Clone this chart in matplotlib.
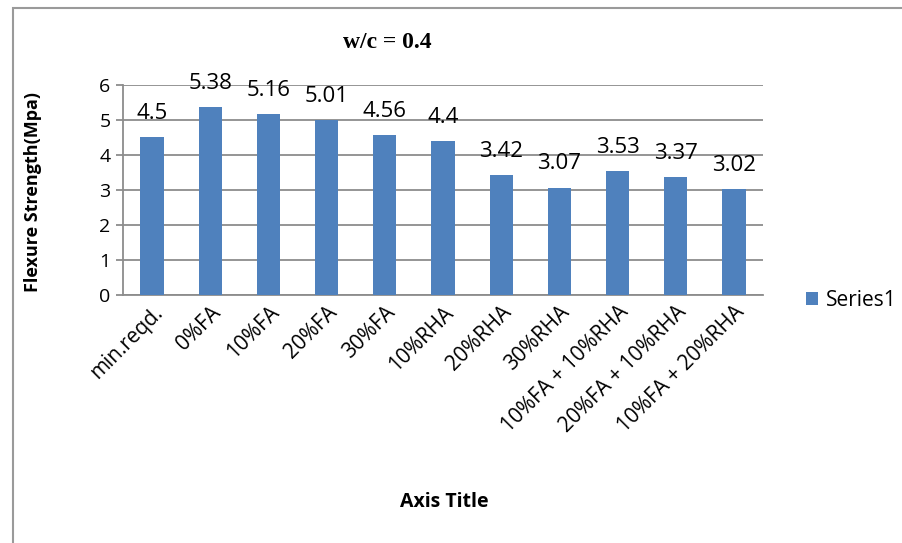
import matplotlib
matplotlib.use('Agg')
import matplotlib.pyplot as plt
from matplotlib.patches import Rectangle

categories = ['min.reqd.', '0%FA', '10%FA', '20%FA', '30%FA', '10%RHA', '20%RHA',
              '30%RHA', '10%FA + 10%RHA', '20%FA + 10%RHA', '10%FA + 20%RHA']
strength = [4.5, 5.38, 5.16, 5.01, 4.56, 4.4, 3.42, 3.07, 3.53, 3.37, 3.02]
yticks = [0, 1, 2, 3, 4, 5, 6]

BAR = '#4F81BD'
GRID = '#8C8C8C'
LABEL_FONT = ['Open Sans', 'DejaVu Sans']

fig = plt.figure(figsize=(9.03, 5.43), dpi=100)
fig.patch.set_facecolor('white')

# outer chart frame
fig.add_artist(Rectangle((13 / 903, -0.05), 1.0, (543 - 8) / 543 + 0.05,
                         transform=fig.transFigure, fill=False,
                         edgecolor='#9A9A9A', linewidth=1.5))

ax = fig.add_axes([123 / 903, (543 - 295) / 543, (763 - 123) / 903, 210 / 543])
x = range(len(categories))
bars = ax.bar(x, strength, width=0.4, color=BAR, zorder=3, label='Series1')

ax.set_xlim(-0.5, len(categories) - 0.5)
ax.set_ylim(0, 6)
ax.set_yticks(yticks)
ax.set_yticklabels([str(t) for t in yticks], fontsize=14, family=LABEL_FONT)
ax.yaxis.grid(True, color=GRID, linewidth=1.3, zorder=0)
ax.set_axisbelow(True)
for s in ['top', 'right']:
    ax.spines[s].set_visible(False)
for s in ['left', 'bottom']:
    ax.spines[s].set_color(GRID)
    ax.spines[s].set_linewidth(1.3)
ax.tick_params(axis='y', length=5, color=GRID, width=1.3, pad=4)
ax.tick_params(axis='x', length=0, pad=5)

ax.set_xticks(list(x))
ax.set_xticklabels(categories, rotation=45, ha='right', rotation_mode='anchor',
                   fontsize=15, family=LABEL_FONT)

# value labels sit a fixed distance above each bar
for xi, v in zip(x, strength):
    ax.annotate(f'{v:g}', (xi, v), xytext=(0, 13), textcoords='offset points',
                ha='center', va='baseline', fontsize=16, family=LABEL_FONT,
                annotation_clip=False)

fig.text(387 / 903, 1 - 43 / 543, 'w/c = 0.4', ha='center', va='center',
         fontsize=17, fontweight='bold', family='Liberation Serif')
fig.text(33 / 903, 1 - 192 / 543, 'Flexure Strength(Mpa)', rotation=90,
         ha='center', va='center', fontsize=13, fontweight='bold', family=LABEL_FONT)
fig.text(444 / 903, 1 - 502 / 543, 'Axis Title', ha='center', va='center',
         fontsize=14, fontweight='bold', family=LABEL_FONT)

leg = fig.legend(handles=[bars], labels=['Series1'], loc='center left',
                 bbox_to_anchor=(787 / 903, 1 - 300 / 543), frameon=False,
                 prop={'family': LABEL_FONT, 'size': 15},
                 handlelength=0.6, handleheight=0.6, handletextpad=0.35)

plt.savefig('out.png', dpi=100, facecolor='white')
